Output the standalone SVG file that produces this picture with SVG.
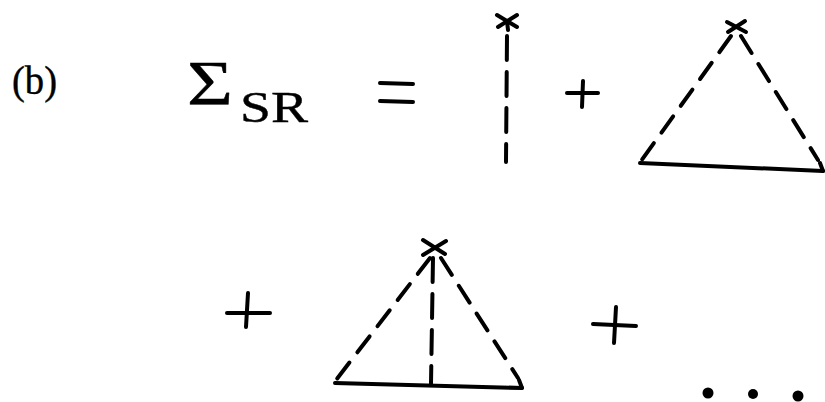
<svg xmlns="http://www.w3.org/2000/svg" width="825" height="402" viewBox="0 0 825 402">
<style>
.txt{font-family:"Liberation Serif","DejaVu Serif",serif;fill:#000;stroke:#000;stroke-width:0.4}
.solid{stroke:#000;stroke-width:4;fill:none;stroke-linecap:round}
.dash{stroke:#000;stroke-width:4;fill:none;stroke-linecap:round;stroke-dasharray:20 13}
.vert{stroke:#000;stroke-width:4;fill:none;stroke-linecap:round;stroke-dasharray:24 12}
.cross{stroke:#000;stroke-width:4;fill:none;stroke-linecap:round}
</style>
<rect width="825" height="402" fill="#fff"/>
<g id="label-b">
<text class="txt" x="12" y="94" font-size="40" textLength="45" lengthAdjust="spacingAndGlyphs">(b)</text>
</g>
<g id="sigma-sr">
<text class="txt" x="187" y="105" font-size="63" textLength="46" lengthAdjust="spacingAndGlyphs">Σ</text>
<text class="txt" x="240" y="122" font-size="44" textLength="68" lengthAdjust="spacingAndGlyphs">SR</text>
</g>
<g id="equals">
<line class="solid" x1="380" y1="83" x2="413" y2="84"/>
<line class="solid" x1="380" y1="101" x2="413" y2="102"/>
</g>
<g id="term-line">
<line class="cross" x1="497" y1="15" x2="517" y2="27"/>
<line class="cross" x1="498" y1="27" x2="517" y2="15"/>
<line class="cross" x1="507" y1="21" x2="508" y2="30"/>
<line class="vert" x1="507" y1="36" x2="506" y2="162"/>
</g>
<g id="plus-1">
<line class="solid" x1="567" y1="93" x2="598" y2="93"/>
<line class="solid" x1="583" y1="81" x2="582" y2="107"/>
</g>
<g id="term-triangle">
<line class="cross" x1="727" y1="22" x2="746" y2="32"/>
<line class="cross" x1="728" y1="32" x2="745" y2="21"/>
<line class="dash" x1="731" y1="36" x2="641" y2="161"/>
<line class="dash" x1="741" y1="36" x2="818" y2="160"/>
<line class="solid" x1="640" y1="163" x2="823" y2="171"/>
<line class="solid" x1="823" y1="171" x2="820" y2="163"/>
</g>
<g id="plus-2">
<line class="solid" x1="227" y1="313" x2="270" y2="313"/>
<line class="solid" x1="248" y1="293" x2="246" y2="327"/>
</g>
<g id="term-triangle-vertical">
<line class="cross" x1="423" y1="240" x2="445" y2="254"/>
<line class="cross" x1="423" y1="255" x2="446" y2="241"/>
<line class="dash" x1="430" y1="258" x2="336" y2="380"/>
<line class="dash" x1="441" y1="258" x2="518" y2="378"/>
<line class="vert" x1="433" y1="258" x2="431" y2="384"/>
<line class="solid" x1="335" y1="383" x2="522" y2="388"/>
<line class="solid" x1="522" y1="388" x2="519" y2="380"/>
</g>
<g id="plus-3">
<line class="solid" x1="593" y1="324" x2="636" y2="326"/>
<line class="solid" x1="616" y1="307" x2="614" y2="343"/>
</g>
<g id="ellipsis">
<circle cx="708" cy="393" r="5.5"/>
<circle cx="753" cy="394" r="5"/>
<circle cx="798" cy="396" r="5.5"/>
</g>
</svg>
